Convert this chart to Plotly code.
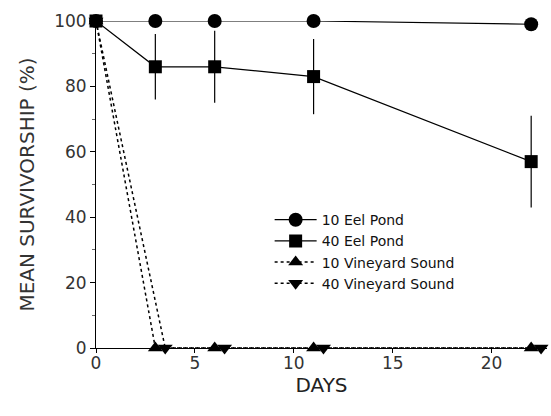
import plotly.graph_objects as go

days = [0, 3, 6, 11, 22]
eel10 = [100, 100, 100, 100, 99]
eel40 = [100, 86, 86, 83, 57]
eel40_err = [0, 10, 11, 11.5, 14]
vs10_days = [0, 3, 6, 11, 22]
vs10 = [100, 0, 0, 0, 0]
vs40_days = [0, 3.5, 6.5, 11.5, 22.5]
vs40 = [100, 0, 0, 0, 0]

FONT = "DejaVu Sans"
fig = go.Figure()

fig.add_trace(go.Scatter(
    x=vs10_days, y=vs10, name="10 Vineyard Sound", mode="lines+markers",
    line=dict(color="black", width=1.5, dash="dot"),
    marker=dict(symbol="triangle-up", size=13, color="black"),
    cliponaxis=False, legendrank=3))
fig.add_trace(go.Scatter(
    x=vs40_days, y=vs40, name="40 Vineyard Sound", mode="lines+markers",
    line=dict(color="black", width=1.5, dash="dot"),
    marker=dict(symbol="triangle-down", size=13, color="black"),
    cliponaxis=False, legendrank=4))
fig.add_trace(go.Scatter(
    x=days, y=eel10, name="10 Eel Pond", mode="lines+markers",
    line=dict(color="black", width=1.2),
    marker=dict(symbol="circle", size=14, color="black"),
    cliponaxis=False, legendrank=1))
fig.add_trace(go.Scatter(
    x=days, y=eel40, name="40 Eel Pond", mode="lines+markers",
    line=dict(color="black", width=1.2),
    marker=dict(symbol="square", size=13, color="black"),
    error_y=dict(type="data", array=eel40_err, color="black", thickness=1.2, width=0),
    cliponaxis=False, legendrank=2))

fig.update_layout(
    width=551, height=416,
    margin=dict(l=96, r=4, t=21, b=68),
    paper_bgcolor="white", plot_bgcolor="white",
    font=dict(family=FONT, color="#222"),
    showlegend=True,
    legend=dict(x=0.385, y=0.44, xanchor="left", yanchor="top",
                font=dict(size=14, family=FONT, color="#111"),
                bgcolor="rgba(0,0,0,0)", itemwidth=42, tracegroupgap=0),
)
fig.update_xaxes(
    range=[0, 22.8], showgrid=False, zeroline=False,
    showline=True, linecolor="black", linewidth=1,
    tickvals=[0, 5, 10, 15, 20], ticks="outside", ticklen=4, tickcolor="black",
    ticklabelstandoff=-4,
    tickfont=dict(size=17, color="#333"),
    title=dict(text="DAYS", font=dict(size=20, color="#222"), standoff=0),
)
fig.update_yaxes(
    range=[0, 100], showgrid=False, zeroline=False,
    showline=True, linecolor="black", linewidth=1,
    tickvals=[0, 20, 40, 60, 80, 100], ticks="outside", ticklen=5, tickcolor="black",
    minor=dict(tickvals=[10, 30, 50, 70, 90], ticks="outside", ticklen=3, tickcolor="#666"),
    tickfont=dict(size=17, color="#333"),
    title=dict(text="MEAN SURVIVORSHIP (%)", font=dict(size=20, color="#333"), standoff=14),
)

fig.write_html("out.html")
